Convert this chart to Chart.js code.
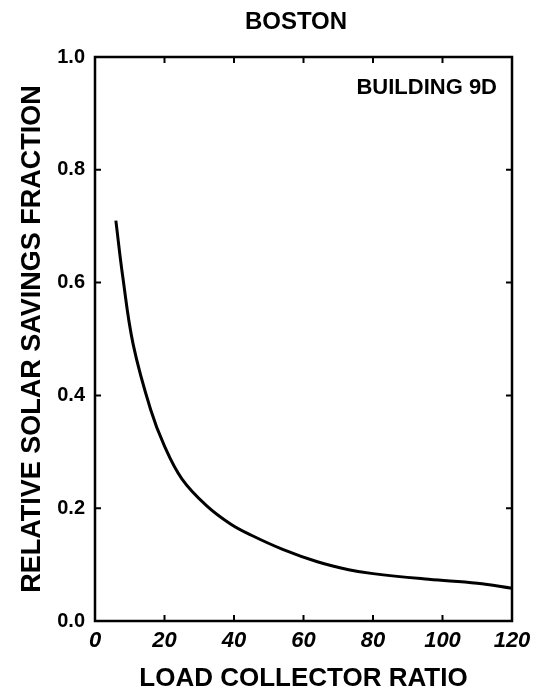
<!DOCTYPE html>
<html>
<head>
<meta charset="utf-8">
<script src="https://cdn.jsdelivr.net/npm/chart.js@4/dist/chart.umd.min.js"></script>
<style>
html,body{margin:0;padding:0;background:#fff;}
#wrap{width:541px;height:694px;}
</style>
</head>
<body>
<div id="wrap"><canvas id="c" width="541" height="694"></canvas></div>
<script>
const chartTitle = 'BOSTON';
const annotation = 'BUILDING 9D';
const xAxisTitle = 'LOAD COLLECTOR RATIO';
const yAxisTitle = 'RELATIVE SOLAR SAVINGS FRACTION';
const loadCollectorRatio = [6, 8, 11, 16, 20, 25, 32, 39, 45, 54, 64, 73, 80, 96, 110, 120];
const savingsFraction = [0.71, 0.61, 0.49, 0.375, 0.31, 0.252, 0.205, 0.172, 0.152, 0.127, 0.105, 0.091, 0.084, 0.074, 0.067, 0.058];
const xTickValues = [0, 20, 40, 60, 80, 100, 120];
const yTickValues = [0, 0.2, 0.4, 0.6, 0.8, 1.0];
const yTickLabels = ['0.0', '0.2', '0.4', '0.6', '0.8', '1.0'];

const FONT = "'Liberation Sans', Arial, Helvetica, sans-serif";

const framePlugin = {
  id: 'frame',
  afterDraw(chart) {
    const ctx = chart.ctx;
    const a = chart.chartArea;
    const xs = chart.scales.x, ys = chart.scales.y;
    ctx.save();
    ctx.strokeStyle = '#000';
    ctx.lineWidth = 2.5;
    ctx.strokeRect(a.left, a.top, a.right - a.left, a.bottom - a.top);
    ctx.lineWidth = 2;
    const t = 6;
    xTickValues.forEach(v => {
      const px = xs.getPixelForValue(v);
      ctx.beginPath();
      ctx.moveTo(px, a.bottom); ctx.lineTo(px, a.bottom - t);
      ctx.moveTo(px, a.top); ctx.lineTo(px, a.top + t);
      ctx.stroke();
    });
    yTickValues.forEach(v => {
      const py = ys.getPixelForValue(v);
      ctx.beginPath();
      ctx.moveTo(a.left, py); ctx.lineTo(a.left + t, py);
      ctx.moveTo(a.right, py); ctx.lineTo(a.right - t, py);
      ctx.stroke();
    });
    ctx.fillStyle = '#000';
    ctx.font = 'bold 24px ' + FONT;
    ctx.textAlign = 'center';
    ctx.textBaseline = 'middle';
    ctx.fillText(chartTitle, 296, 22);
    ctx.font = 'bold 22px ' + FONT;
    ctx.textAlign = 'right';
    ctx.fillText(annotation, a.right - 15, 88);
    ctx.restore();
  }
};

new Chart(document.getElementById('c'), {
  type: 'line',
  data: {
    datasets: [{
      data: loadCollectorRatio.map((x, i) => ({x: x, y: savingsFraction[i]})),
      borderColor: '#000',
      borderWidth: 3,
      pointRadius: 0,
      fill: false,
      tension: 0.4
    }]
  },
  options: {
    responsive: false,
    animation: false,
    layout: {padding: {top: 57, right: 29, left: 0, bottom: 0}},
    plugins: {legend: {display: false}, tooltip: {enabled: false}, title: {display: false}},
    scales: {
      x: {
        type: 'linear', min: 0, max: 120,
        afterBuildTicks: s => { s.ticks = xTickValues.map(v => ({value: v})); },
        afterFit: s => { s.height = 73; },
        grid: {display: false, drawTicks: false},
        border: {display: false},
        ticks: {color: '#000', padding: 7, maxRotation: 0, font: {family: FONT, size: 22, weight: 'bold', style: 'italic'}},
        title: {display: true, text: xAxisTitle, color: '#000', padding: {top: 0, bottom: 0}, font: {family: FONT, size: 26, weight: 'bold'}}
      },
      y: {
        type: 'linear', min: 0, max: 1,
        afterBuildTicks: s => { s.ticks = yTickValues.map(v => ({value: v})); },
        afterFit: s => { s.width = 95; },
        grid: {display: false, drawTicks: false},
        border: {display: false},
        ticks: {color: '#000', padding: 10, callback: (v) => yTickLabels[yTickValues.findIndex(t => Math.abs(t - v) < 1e-9)], font: {family: FONT, size: 20, weight: 'bold'}},
        title: {display: true, text: yAxisTitle, color: '#000', padding: {top: 16, bottom: 0}, font: {family: FONT, size: 27, weight: 'bold'}}
      }
    }
  },
  plugins: [framePlugin]
});
</script>
</body>
</html>
